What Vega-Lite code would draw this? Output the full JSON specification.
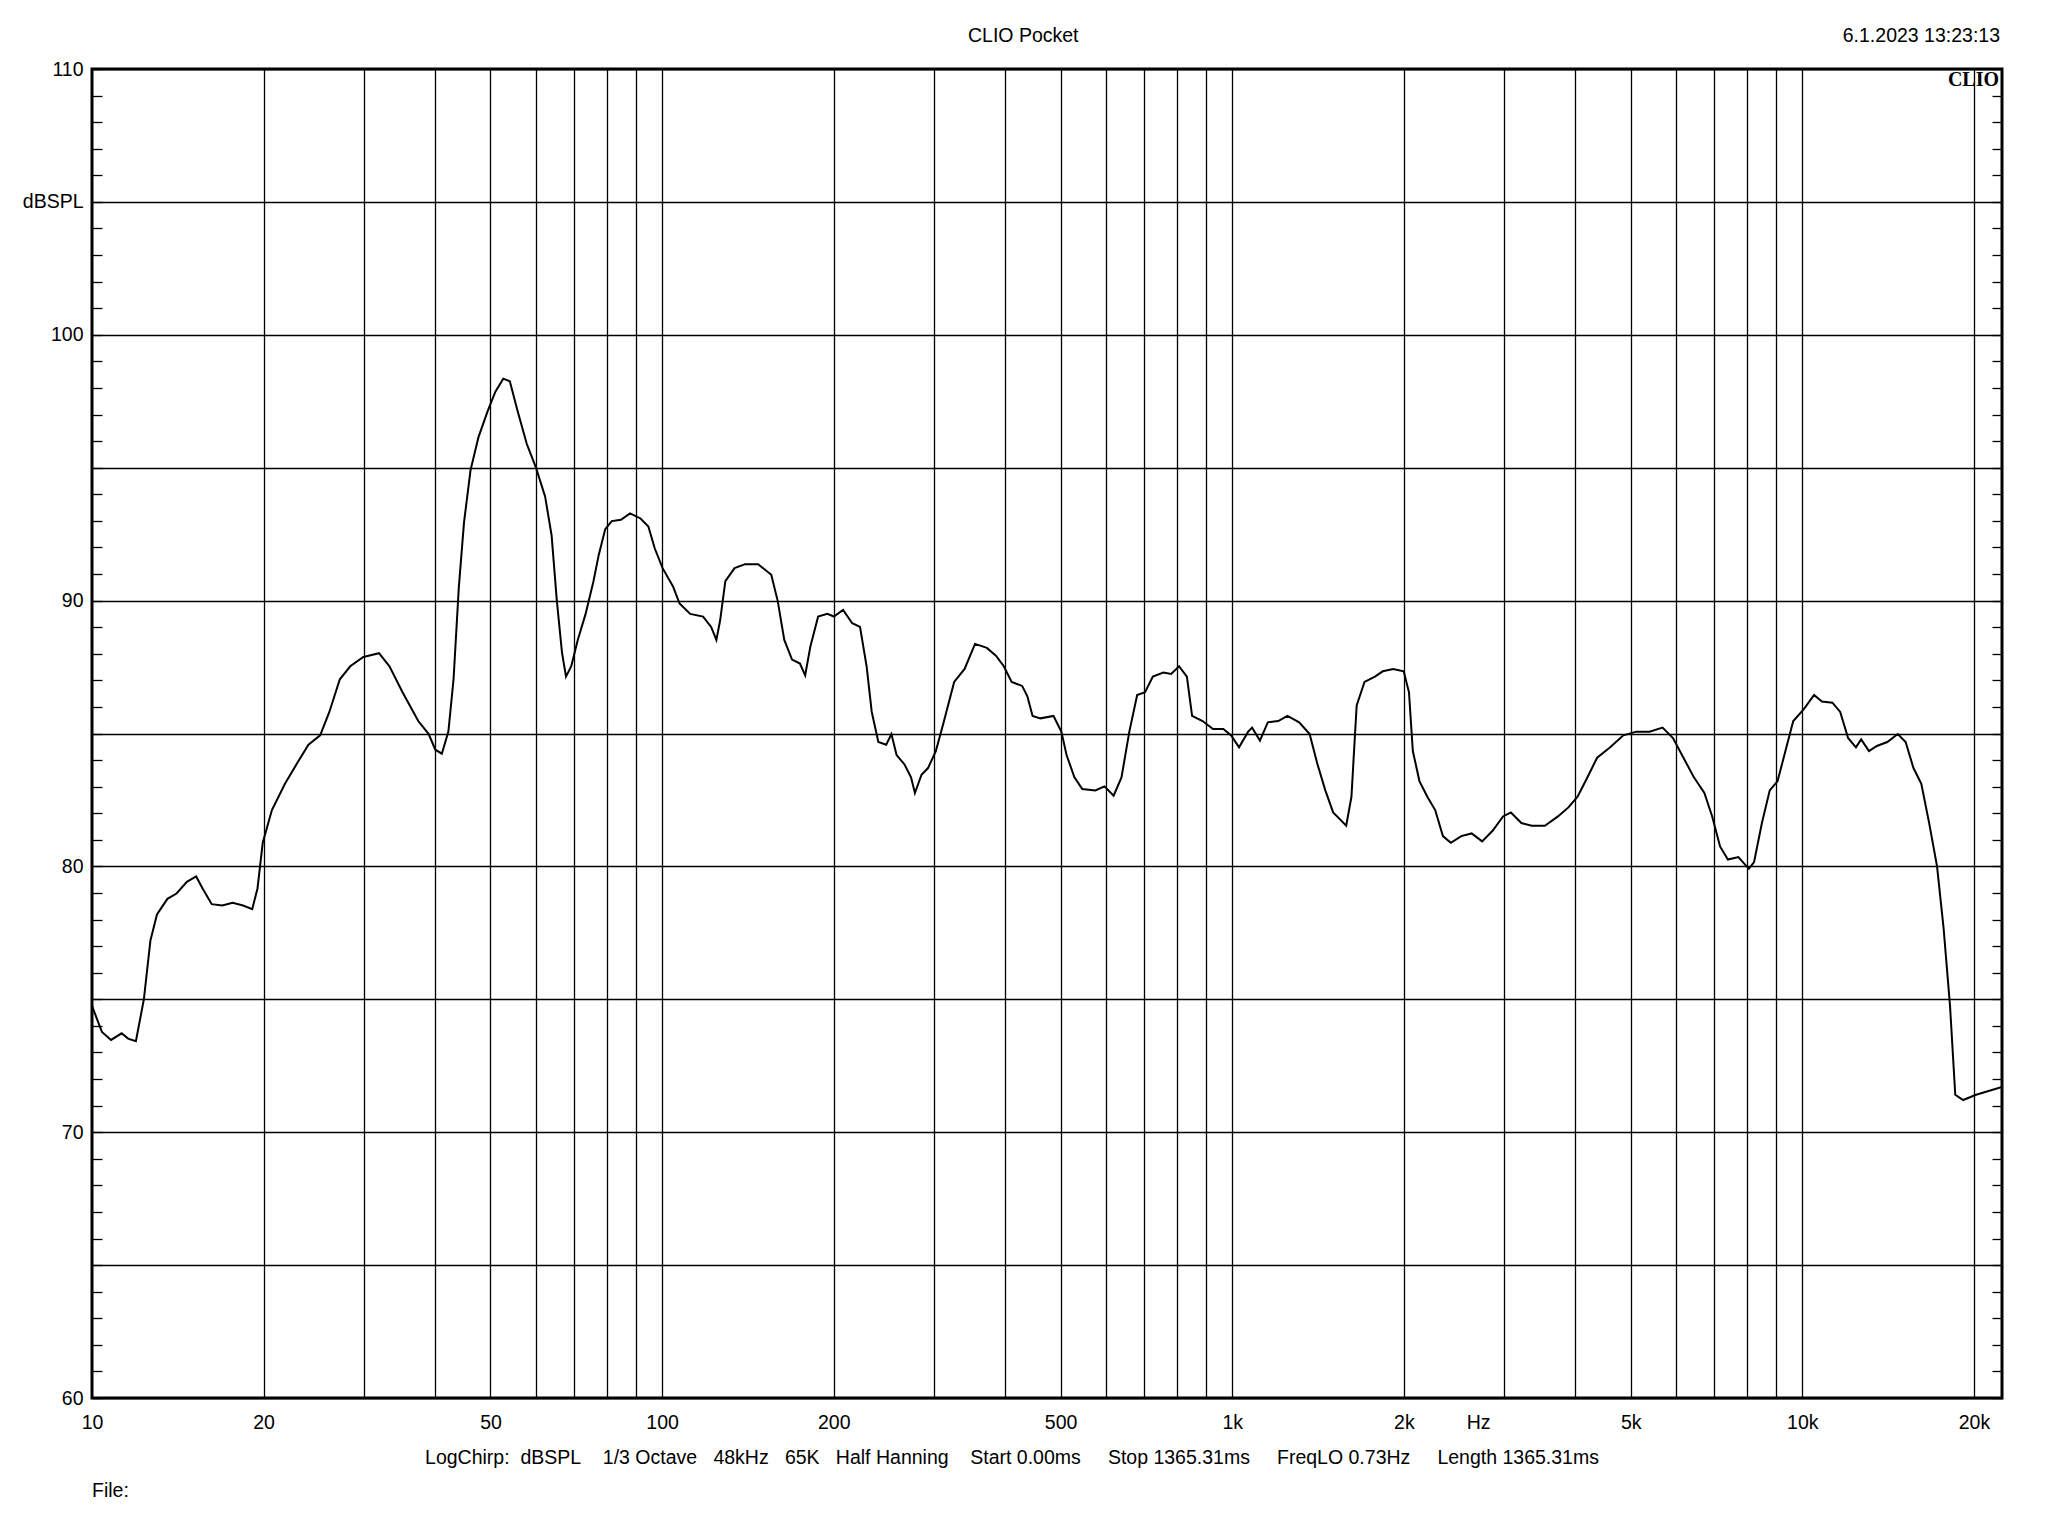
{
  "$schema": "https://vega.github.io/schema/vega-lite/v6.json",
  "width": 1910,
  "height": 1329,
  "autosize": {"type": "none"},
  "padding": {"left": 92, "top": 69, "right": 46, "bottom": 138},
  "background": "white",
  "config": {
    "view": {"stroke": "#000", "strokeWidth": 3},
    "font": "Liberation Sans",
    "axis": {
      "labelFont": "Liberation Sans", "labelFontSize": 19.5, "labelColor": "#000",
      "gridColor": "#000", "gridWidth": 1.3, "gridOpacity": 1, "domain": false,
      "labelFlush": false, "labelOverlap": false, "labelBound": false,
      "tickColor": "#000", "titleColor": "#000", "titleFont": "Liberation Sans"
    },
    "text": {"font": "Liberation Sans", "fontSize": 19.5, "color": "#000"}
  },
  "layer": [
    {
      "data": {"name": "curve", "values": [
        {"f":10,"db":74.75},{"f":10.41,"db":73.77},{"f":10.8,"db":73.47},{"f":11.27,"db":73.72},{"f":11.57,"db":73.52},{"f":11.94,"db":73.42},{"f":12.33,"db":75.0},{"f":12.66,"db":77.21},{"f":13.0,"db":78.19},{"f":13.56,"db":78.78},{"f":14.07,"db":78.98},{"f":14.67,"db":79.42},{"f":15.23,"db":79.62},{"f":15.63,"db":79.17},{"f":16.22,"db":78.58},{"f":16.92,"db":78.53},{"f":17.65,"db":78.63},{"f":18.41,"db":78.53},{"f":19.1,"db":78.39},{"f":19.51,"db":79.17},{"f":19.93,"db":80.89},{"f":20.68,"db":82.12},{"f":21.8,"db":83.11},{"f":22.98,"db":83.94},{"f":23.97,"db":84.58},{"f":25.13,"db":84.93},{"f":26.08,"db":85.81},{"f":27.21,"db":87.04},{"f":28.38,"db":87.53},{"f":29.92,"db":87.88},{"f":31.87,"db":88.02},{"f":33.25,"db":87.53},{"f":35.05,"db":86.55},{"f":37.35,"db":85.47},{"f":38.96,"db":84.98},{"f":40.01,"db":84.39},{"f":41.08,"db":84.24},{"f":42.18,"db":85.07},{"f":43.07,"db":87.04},{"f":43.99,"db":90.48},{"f":44.93,"db":92.94},{"f":46.13,"db":94.91},{"f":47.62,"db":96.14},{"f":49.41,"db":97.12},{"f":51.0,"db":97.86},{"f":52.65,"db":98.35},{"f":54.06,"db":98.25},{"f":55.8,"db":97.12},{"f":57.9,"db":95.89},{"f":60.08,"db":95.0},{"f":62.34,"db":93.92},{"f":64.0,"db":92.45},{"f":65.37,"db":89.99},{"f":66.76,"db":88.02},{"f":67.83,"db":87.14},{"f":69.28,"db":87.53},{"f":71.13,"db":88.52},{"f":73.42,"db":89.5},{"f":75.79,"db":90.73},{"f":77.4,"db":91.71},{"f":79.48,"db":92.69},{"f":81.6,"db":92.99},{"f":84.67,"db":93.04},{"f":87.86,"db":93.28},{"f":91.65,"db":93.09},{"f":94.6,"db":92.79},{"f":97.09,"db":91.96},{"f":100.2,"db":91.22},{"f":104.5,"db":90.53},{"f":107.3,"db":89.89},{"f":112.0,"db":89.5},{"f":118.0,"db":89.4},{"f":121.9,"db":89.01},{"f":124.5,"db":88.52},{"f":126.4,"db":89.25},{"f":129.1,"db":90.73},{"f":134.0,"db":91.22},{"f":139.8,"db":91.37},{"f":147.4,"db":91.37},{"f":155.4,"db":90.97},{"f":159.5,"db":89.99},{"f":163.8,"db":88.52},{"f":169.0,"db":87.78},{"f":174.5,"db":87.63},{"f":178.2,"db":87.19},{"f":182.0,"db":88.27},{"f":187.8,"db":89.4},{"f":194.9,"db":89.5},{"f":200.1,"db":89.4},{"f":207.7,"db":89.65},{"f":215.5,"db":89.15},{"f":222.4,"db":89.01},{"f":228.4,"db":87.53},{"f":233.2,"db":85.81},{"f":239.5,"db":84.68},{"f":247.2,"db":84.58},{"f":252.5,"db":84.98},{"f":257.8,"db":84.19},{"f":266.1,"db":83.84},{"f":273.3,"db":83.35},{"f":277.6,"db":82.76},{"f":285.1,"db":83.45},{"f":292.7,"db":83.7},{"f":302.1,"db":84.34},{"f":311.8,"db":85.42},{"f":325.3,"db":86.94},{"f":339.3,"db":87.43},{"f":353.9,"db":88.37},{"f":371.2,"db":88.22},{"f":385.1,"db":87.93},{"f":397.5,"db":87.53},{"f":410.3,"db":86.94},{"f":428.1,"db":86.79},{"f":437.2,"db":86.4},{"f":446.5,"db":85.66},{"f":460.9,"db":85.57},{"f":485.9,"db":85.66},{"f":501.5,"db":85.07},{"f":512.2,"db":84.19},{"f":528.7,"db":83.35},{"f":545.8,"db":82.91},{"f":575.3,"db":82.86},{"f":597.0,"db":83.01},{"f":619.4,"db":82.66},{"f":639.4,"db":83.35},{"f":660.0,"db":85.07},{"f":681.2,"db":86.45},{"f":703.2,"db":86.55},{"f":725.8,"db":87.14},{"f":757.1,"db":87.29},{"f":781.5,"db":87.24},{"f":806.7,"db":87.53},{"f":832.7,"db":87.14},{"f":850.4,"db":85.66},{"f":887.1,"db":85.47},{"f":925.4,"db":85.17},{"f":964.8,"db":85.17},{"f":995.9,"db":84.93},{"f":1027.9,"db":84.48},{"f":1066.6,"db":85.07},{"f":1083.6,"db":85.22},{"f":1118.5,"db":84.73},{"f":1154.5,"db":85.42},{"f":1204.4,"db":85.47},{"f":1249.8,"db":85.66},{"f":1310.6,"db":85.42},{"f":1367.1,"db":84.98},{"f":1411.1,"db":83.84},{"f":1456.5,"db":82.86},{"f":1503.4,"db":82.03},{"f":1551.8,"db":81.73},{"f":1584.7,"db":81.53},{"f":1618.6,"db":82.62},{"f":1653.1,"db":86.06},{"f":1706.3,"db":86.94},{"f":1780,"db":87.14},{"f":1837,"db":87.34},{"f":1916,"db":87.43},{"f":1999,"db":87.34},{"f":2042,"db":86.55},{"f":2074,"db":84.34},{"f":2130,"db":83.21},{"f":2199,"db":82.62},{"f":2270,"db":82.12},{"f":2342,"db":81.14},{"f":2418,"db":80.89},{"f":2522,"db":81.14},{"f":2630,"db":81.24},{"f":2744,"db":80.94},{"f":2862,"db":81.34},{"f":2986,"db":81.88},{"f":3082,"db":82.03},{"f":3215,"db":81.63},{"f":3353,"db":81.53},{"f":3535,"db":81.53},{"f":3727,"db":81.88},{"f":3888,"db":82.22},{"f":4034,"db":82.62},{"f":4186,"db":83.3},{"f":4366,"db":84.09},{"f":4603,"db":84.48},{"f":4853,"db":84.93},{"f":5116,"db":85.07},{"f":5394,"db":85.07},{"f":5686,"db":85.22},{"f":5931,"db":84.83},{"f":6187,"db":84.09},{"f":6454,"db":83.35},{"f":6733,"db":82.76},{"f":6949,"db":81.88},{"f":7173,"db":80.75},{"f":7404,"db":80.26},{"f":7724,"db":80.35},{"f":8057,"db":79.91},{"f":8229,"db":80.16},{"f":8494,"db":81.63},{"f":8767,"db":82.86},{"f":9049,"db":83.21},{"f":9340,"db":84.34},{"f":9641,"db":85.47},{"f":10054,"db":85.91},{"f":10487,"db":86.45},{"f":10824,"db":86.2},{"f":11291,"db":86.16},{"f":11654,"db":85.81},{"f":12030,"db":84.83},{"f":12417,"db":84.48},{"f":12682,"db":84.78},{"f":13090,"db":84.34},{"f":13512,"db":84.53},{"f":14096,"db":84.68},{"f":14705,"db":84.98},{"f":15178,"db":84.68},{"f":15666,"db":83.7},{"f":16171,"db":83.11},{"f":16691,"db":81.63},{"f":17229,"db":80.01},{"f":17689,"db":77.7},{"f":18159,"db":74.75},{"f":18547,"db":71.41},{"f":19144,"db":71.21},{"f":20179,"db":71.41},{"f":22400,"db":71.7}
      ]},
      "mark": {"type": "line", "stroke": "#000", "strokeWidth": 2, "clip": true},
      "encoding": {
        "x": {
          "field": "f", "type": "quantitative",
          "scale": {"type": "log", "domain": [10, 22400], "nice": false},
          "axis": {
            "orient": "bottom",
            "values": [10,20,30,40,50,60,70,80,90,100,200,300,400,500,600,700,800,900,1000,2000,2700,3000,4000,5000,6000,7000,8000,9000,10000,20000],
            "ticks": false, "labelPadding": 30, "labelBaseline": "alphabetic",
            "labelExpr": "datum.value == 2700 ? 'Hz' : (datum.value >= 1000 && (datum.value == 1000 || datum.value == 2000 || datum.value == 5000 || datum.value == 10000 || datum.value == 20000) ? format(datum.value / 1000, 'd') + 'k' : ((datum.value == 10 || datum.value == 20 || datum.value == 50 || datum.value == 100 || datum.value == 200 || datum.value == 500) ? format(datum.value, 'd') : ''))",
            "gridOpacity": {"condition": {"test": "datum.value == 10 || datum.value == 2700", "value": 0}, "value": 1},
            "title": "LogChirp:\u00a0\u00a0dBSPL\u00a0\u00a0\u00a0\u00a01/3 Octave\u00a0\u00a0\u00a048kHz\u00a0\u00a0\u00a065K\u00a0\u00a0\u00a0Half Hanning\u00a0\u00a0\u00a0\u00a0Start 0.00ms\u00a0\u00a0\u00a0\u00a0\u00a0Stop 1365.31ms\u00a0\u00a0\u00a0\u00a0\u00a0FreqLO 0.73Hz\u00a0\u00a0\u00a0\u00a0\u00a0Length 1365.31ms",
            "titleFontSize": 19.5, "titleFontWeight": "normal",
            "titleX": 919.5, "titleY": 65, "titleAlign": "center", "titleBaseline": "alphabetic"
          }
        },
        "y": {
          "field": "db", "type": "quantitative",
          "scale": {"domain": [60, 110], "nice": false, "zero": false},
          "axis": {
            "orient": "left",
            "values": [60,61,62,63,64,65,66,67,68,69,70,71,72,73,74,75,76,77,78,79,80,81,82,83,84,85,86,87,88,89,90,91,92,93,94,95,96,97,98,99,100,101,102,103,104,105,106,107,108,109,110],
            "ticks": true, "tickSize": -10, "tickWidth": 1.3, "labelPadding": 19, "labelBaseline": "middle",
            "labelExpr": "datum.value % 10 == 0 ? format(datum.value, 'd') : (datum.value == 105 ? 'dBSPL' : '')",
            "gridOpacity": {"condition": {"test": "datum.value % 5 == 0", "value": 1}, "value": 0},
            "title": null
          }
        }
      }
    },
    {
      "data": {"name": "curve"},
      "mark": {"type": "line", "opacity": 0},
      "encoding": {
        "x": {"field": "f", "type": "quantitative", "axis": null},
        "y": {
          "field": "db", "type": "quantitative",
          "axis": {
            "orient": "right",
            "values": [60,61,62,63,64,65,66,67,68,69,70,71,72,73,74,75,76,77,78,79,80,81,82,83,84,85,86,87,88,89,90,91,92,93,94,95,96,97,98,99,100,101,102,103,104,105,106,107,108,109,110],
            "ticks": true, "tickSize": -10, "tickWidth": 1.3, "labels": false, "grid": false, "title": null
          }
        }
      }
    },
    {
      "data": {"values": [{"label": "CLIO Pocket"}]},
      "mark": {"type": "text", "align": "center", "baseline": "alphabetic", "dy": -27, "fontSize": 19.5, "font": "Liberation Sans", "color": "#000"},
      "encoding": {
        "x": {"datum": 430, "type": "quantitative", "axis": null},
        "y": {"datum": 110, "type": "quantitative", "axis": null},
        "text": {"field": "label"}
      }
    },
    {
      "data": {"values": [{"label": "6.1.2023 13:23:13"}]},
      "mark": {"type": "text", "align": "right", "baseline": "alphabetic", "dx": -2, "dy": -27, "fontSize": 19.5, "font": "Liberation Sans", "color": "#000"},
      "encoding": {
        "x": {"datum": 22400, "type": "quantitative", "axis": null},
        "y": {"datum": 110, "type": "quantitative", "axis": null},
        "text": {"field": "label"}
      }
    },
    {
      "data": {"values": [{"label": "CLIO"}]},
      "mark": {"type": "text", "align": "right", "baseline": "alphabetic", "dx": -3, "dy": 17, "fontSize": 20, "font": "Liberation Serif", "fontWeight": "bold", "color": "#000"},
      "encoding": {
        "x": {"datum": 22400, "type": "quantitative", "axis": null},
        "y": {"datum": 110, "type": "quantitative", "axis": null},
        "text": {"field": "label"}
      }
    },
    {
      "data": {"values": [{"label": "File:"}]},
      "mark": {"type": "text", "align": "left", "baseline": "alphabetic", "dx": 0, "dy": 99, "fontSize": 19.5, "font": "Liberation Sans", "color": "#000"},
      "encoding": {
        "x": {"datum": 10, "type": "quantitative", "axis": null},
        "y": {"datum": 60, "type": "quantitative", "axis": null},
        "text": {"field": "label"}
      }
    }
  ],
  "resolve": {"axis": {"x": "independent", "y": "independent"}}
}
